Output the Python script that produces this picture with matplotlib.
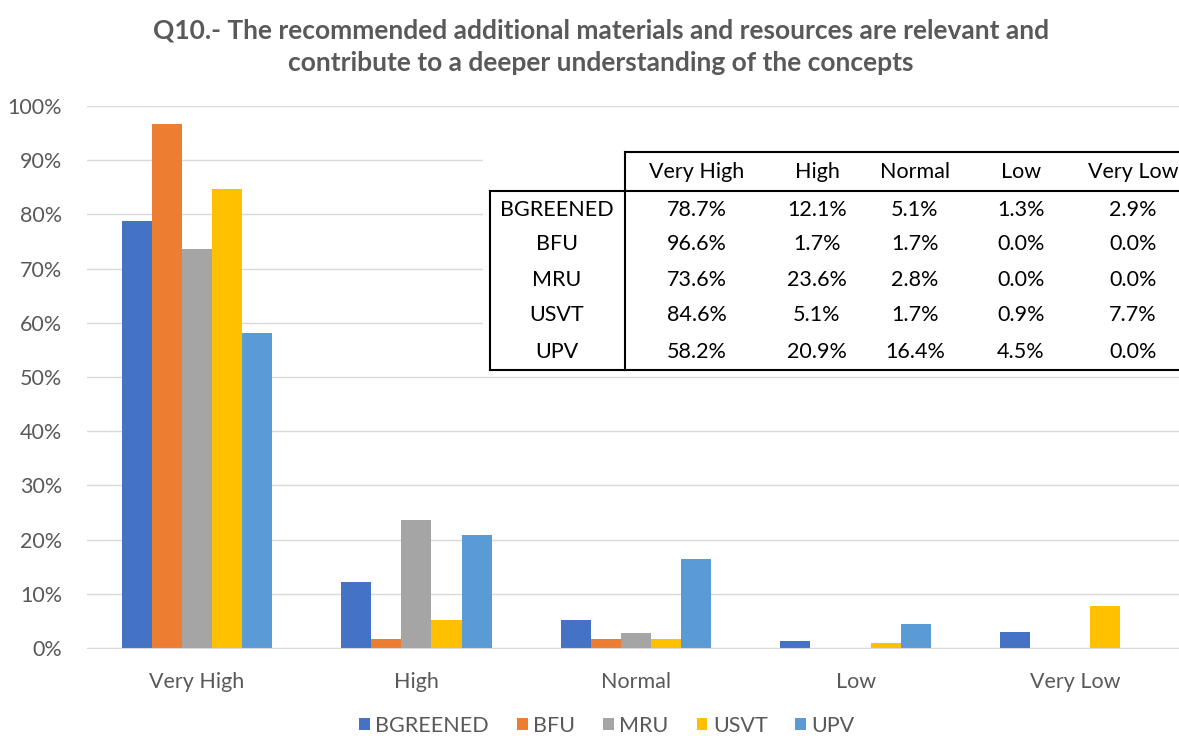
import matplotlib.pyplot as plt
import numpy as np
from matplotlib.patches import Rectangle
from matplotlib.lines import Line2D

plt.rcParams['font.family'] = ['Lato', 'DejaVu Sans']

levels = ["Very High", "High", "Normal", "Low", "Very Low"]
groups = ["BGREENED", "BFU", "MRU", "USVT", "UPV"]
bgreened = [78.7, 12.1, 5.1, 1.3, 2.9]
bfu = [96.6, 1.7, 1.7, 0.0, 0.0]
mru = [73.6, 23.6, 2.8, 0.0, 0.0]
usvt = [84.6, 5.1, 1.7, 0.9, 7.7]
upv = [58.2, 20.9, 16.4, 4.5, 0.0]
colors = ["#4472C4", "#ED7D31", "#A5A5A5", "#FFC000", "#5B9BD5"]

series = [bgreened, bfu, mru, usvt, upv]

W, H = 1179, 736
fig = plt.figure(figsize=(W / 100, H / 100), dpi=100)
ax = fig.add_axes([87 / W, 1 - 648 / H, 1098 / W, (648 - 106) / H])

x = np.arange(len(levels))
bw = 0.137
for i, (name, vals) in enumerate(zip(groups, series)):
    ax.bar(x + (i - 2) * bw, vals, bw, color=colors[i], label=name, zorder=2)

ax.set_xlim(-0.5, 4.5)
ax.set_ylim(0, 100)
ax.set_yticks(np.arange(0, 101, 10))
ax.set_yticklabels([f"{v}%" for v in range(0, 101, 10)])
ax.set_xticks(x)
ax.set_xticklabels(levels)
ax.tick_params(length=0, labelsize=15.5, colors="#595959")
ax.tick_params(axis="x", pad=17)
ax.tick_params(axis="y", pad=18)
ax.grid(axis="y", color="#D9D9D9", lw=1, zorder=0)
for s in ["top", "right", "left"]:
    ax.spines[s].set_visible(False)
ax.spines["bottom"].set_color("#D9D9D9")

fig.text(601 / W, 1 - 30 / H, "Q10.- The recommended additional materials and resources are relevant and",
         ha="center", va="center", fontsize=19, fontweight="bold", color="#595959")
fig.text(601 / W, 1 - 63 / H, "contribute to a deeper understanding of the concepts",
         ha="center", va="center", fontsize=19, fontweight="bold", color="#595959")

# summary table in figure pixel coordinates
def fx(px):
    return px / W

def fy(py):
    return 1 - py / H

fig.patches.append(Rectangle((fx(483), fy(372)), fx(W - 483), fy(145) - fy(372),
                             transform=fig.transFigure, facecolor="white", edgecolor="none", zorder=1))
lw = 1.5
for xs, ys in [((625, W), (152, 152)), ((490, W), (191, 191)), ((490, W), (370, 370)),
               ((625, 625), (152, 370)), ((490, 490), (191, 370))]:
    fig.add_artist(Line2D([fx(v) for v in xs], [fy(v) for v in ys], color="black", lw=lw,
                          transform=fig.transFigure, zorder=3))

col_x = [697, 817, 915, 1021, 1133]
row_y = [210, 244, 280, 315, 352]
for cx, lev in zip(col_x, levels):
    fig.text(fx(cx), fy(172), lev, ha="center", va="center", fontsize=15.5, color="black", zorder=3)
for ry, name, vals in zip(row_y, groups, series):
    fig.text(fx(557), fy(ry), name, ha="center", va="center", fontsize=15.5, color="black", zorder=3)
    for cx, v in zip(col_x, vals):
        fig.text(fx(cx), fy(ry), f"{v:.1f}%", ha="center", va="center", fontsize=15.5, color="black", zorder=3)

leg = fig.legend(loc="center", bbox_to_anchor=(607 / W, 1 - 726 / H), ncol=5, frameon=False,
                 fontsize=15.5, handlelength=0.5, handleheight=0.5, handletextpad=0.25, columnspacing=1.3)
for t in leg.get_texts():
    t.set_color("#595959")

fig.savefig("out.png", dpi=100)
